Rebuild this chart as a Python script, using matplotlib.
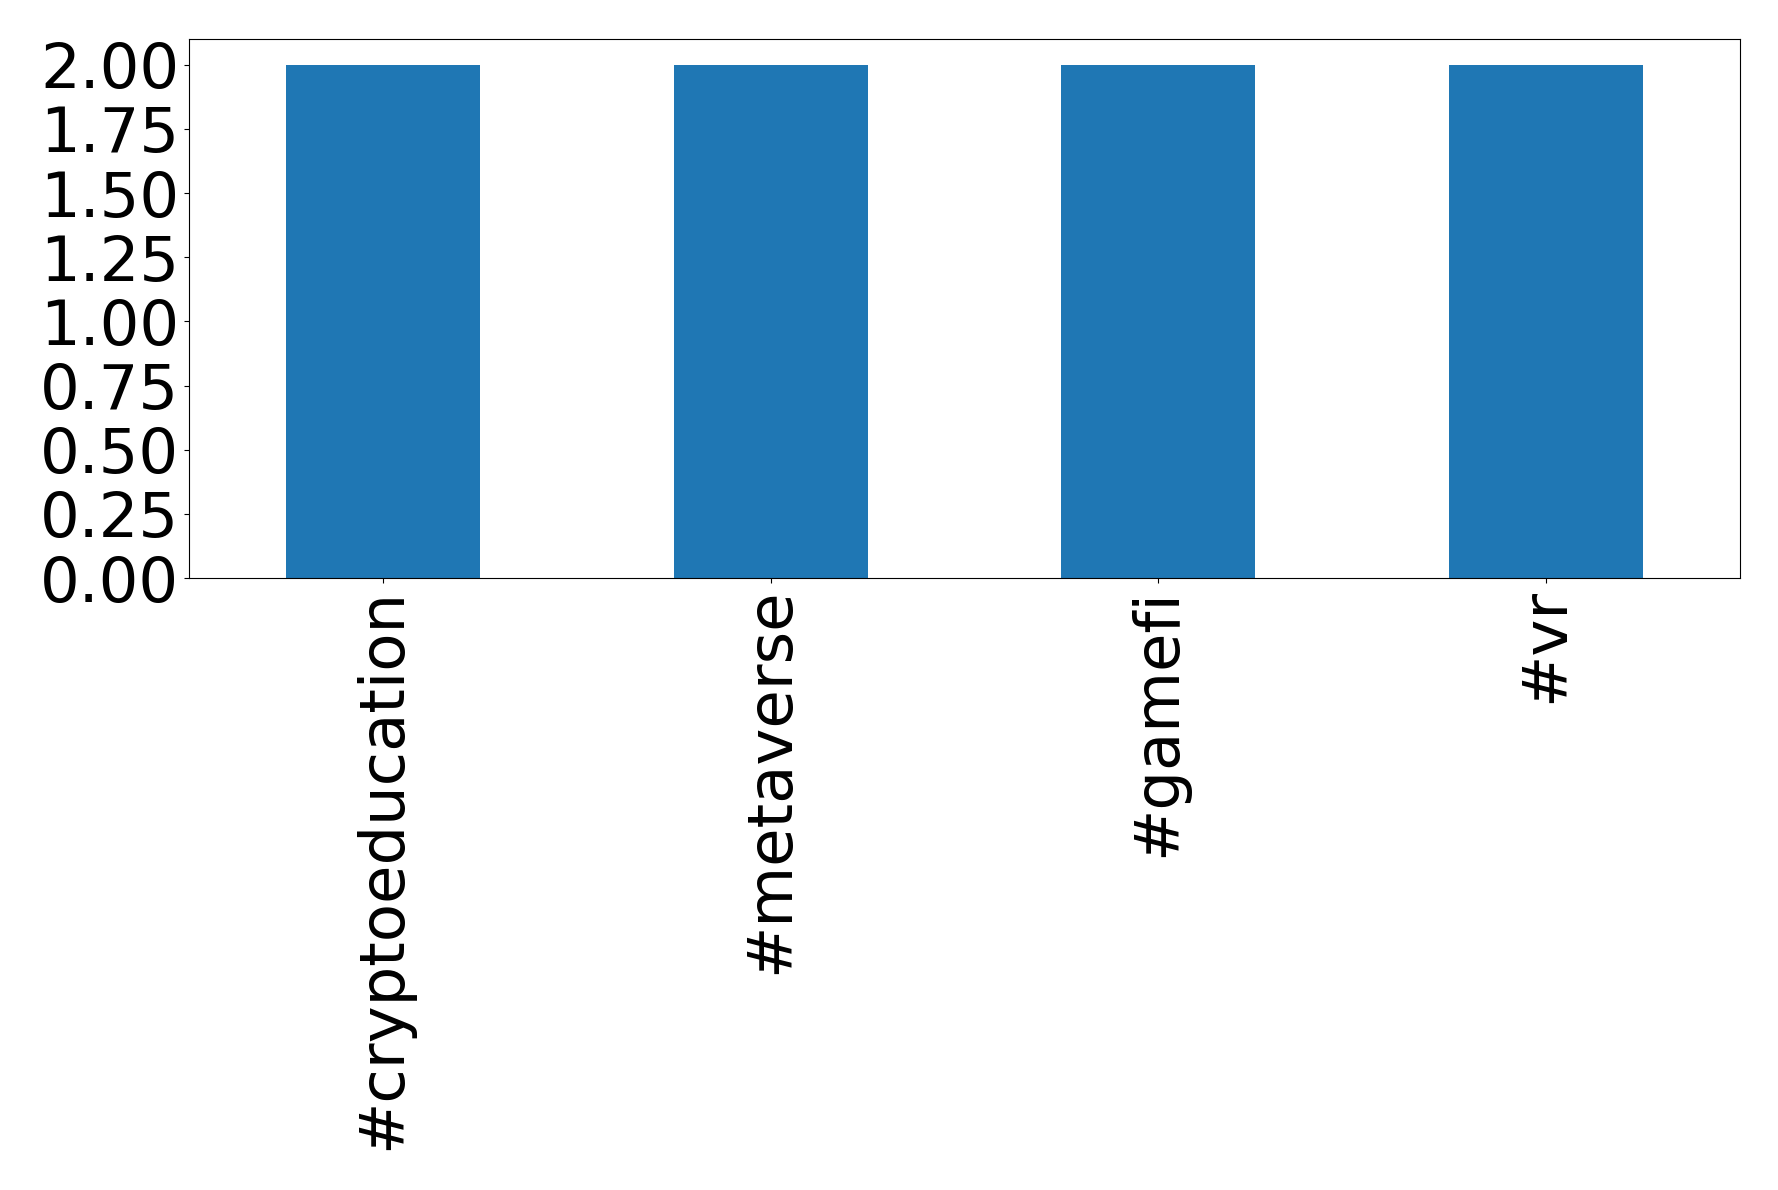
import matplotlib
matplotlib.use("Agg")
import matplotlib.pyplot as plt

categories = ["#cryptoeducation", "#metaverse", "#gamefi", "#vr"]
values = [2, 2, 2, 2]

fig = plt.figure(figsize=(17.78, 11.9), dpi=100)
ax = fig.add_axes([189/1778, 1 - 578/1190, (1740-189)/1778, (578-39)/1190])
x = list(range(len(categories)))
ax.bar(x, values, width=0.5, color="#1f77b4")
ax.set_xlim(-0.5, len(categories) - 0.5)
ax.set_ylim(0, 2.1)
ax.set_yticks([0, 0.25, 0.5, 0.75, 1.0, 1.25, 1.5, 1.75, 2.0])
ax.set_yticklabels(["0.00", "0.25", "0.50", "0.75", "1.00", "1.25", "1.50", "1.75", "2.00"])
ax.set_xticks(x)
ax.set_xticklabels(categories, rotation=90)
ax.tick_params(labelsize=45)
fig.savefig("out.png", dpi=100)
